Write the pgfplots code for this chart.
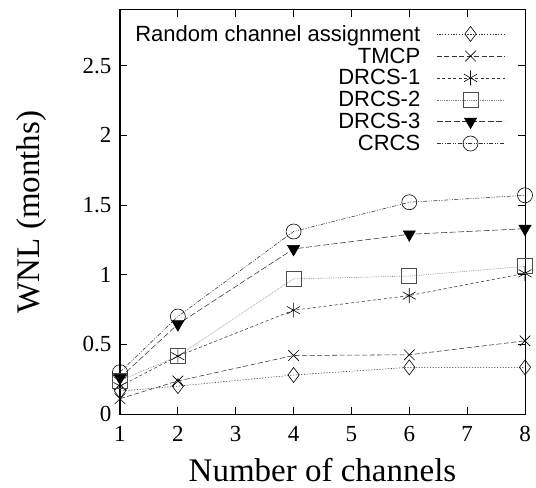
\documentclass[border=0pt]{standalone}
\usepackage{fontspec}
\setmainfont{Liberation Serif}
\newfontfamily\arial{Liberation Sans}
\usepackage{pgfplots}
\pgfplotsset{compat=1.18}
\begin{document}
\begin{tikzpicture}
\begin{axis}[
  scale only axis,
  width=405pt, height=404pt,
  xmin=1, xmax=8, ymin=0, ymax=2.9,
  xtick={1,2,3,4,5,6,7,8},
  xticklabels={1,2,3,4,5,6,7,8},
  ytick={0,0.5,1,1.5,2,2.5},
  yticklabels={0,0.5,1,1.5,2,2.5},
  tick align=inside,
  major tick length=7pt,
  every tick label/.append style={font=\rmfamily\fontsize{23}{25}\selectfont},
  xticklabel style={yshift=-9pt},
  yticklabel style={xshift=-5pt},
  xlabel={Number of channels},
  ylabel={WNL (months)},
  label style={font=\rmfamily\fontsize{33}{36}\selectfont, inner sep=0pt},
  xlabel style={at={(axis description cs:0.5,-0.166)}, anchor=base},
  ylabel style={at={(axis description cs:-0.198,0.5)}, anchor=base},
  axis line style={line width=1pt},
  every tick/.style={black, line width=0.8pt},
  legend plot pos=right,
  legend cell align=right,
  legend style={at={(axis description cs:1,1)}, anchor=north east, xshift=-20pt, yshift=-14pt,
    draw=none, fill=none, inner sep=0pt,
    font=\arial\fontsize{22}{23}\selectfont, row sep=3pt,
    nodes={inner sep=1pt},
    /tikz/every odd column/.append style={column sep=15pt}},
  legend image code/.code={\draw[mark repeat=2,mark phase=2,#1] plot coordinates {(0pt,0pt)(34pt,0pt)(68pt,0pt)};},
]
\coordinate (SW) at (axis description cs:0,0);
\coordinate (NE) at (axis description cs:1,1);
\addplot[black!80, line width=0.55pt, dash pattern=on 1.2pt off 1.6pt, mark=diamond, mark size=7.5pt, mark options={solid, black, fill=none, line width=0.6pt}]
  coordinates {(1,0.165) (2,0.20) (4,0.28) (6,0.335) (8,0.335)};
\addlegendentry{Random channel assignment}
\addplot[black!80, line width=0.55pt, dash pattern=on 5pt off 2.5pt, mark=x, mark size=7.5pt, mark options={solid, black, line width=0.6pt}]
  coordinates {(1,0.11) (2,0.237) (4,0.42) (6,0.425) (8,0.525)};
\addlegendentry{TMCP}
\addplot[black!80, line width=0.55pt, dash pattern=on 3pt off 2.5pt, mark=asterisk, mark size=7.5pt, mark options={solid, black, line width=0.6pt}]
  coordinates {(1,0.20) (2,0.415) (4,0.745) (6,0.85) (8,1.01)};
\addlegendentry{DRCS-1}
\addplot[gray, line width=0.55pt, dash pattern=on 0.8pt off 1pt, mark=square, mark size=7.5pt, mark options={solid, black!70, fill=none, line width=0.8pt}]
  coordinates {(1,0.24) (2,0.415) (4,0.97) (6,0.99) (8,1.06)};
\addlegendentry{DRCS-2}
\addplot[black!80, line width=0.55pt, dash pattern=on 6pt off 2.5pt, mark=triangle*, mark size=7pt, mark options={solid, black, rotate=180, fill=black}]
  coordinates {(1,0.26) (2,0.645) (4,1.185) (6,1.29) (8,1.33)};
\addlegendentry{DRCS-3}
\addplot[black!80, line width=0.55pt, dash pattern=on 4pt off 1.5pt on 1pt off 1.5pt on 1pt off 1.5pt, mark=o, mark size=7.5pt, mark options={solid, black, fill=none, line width=0.6pt}]
  coordinates {(1,0.30) (2,0.70) (4,1.31) (6,1.52) (8,1.57)};
\addlegendentry{CRCS}
\end{axis}
\pgfresetboundingbox
\path[use as bounding box] ([xshift=-120pt,yshift=-73pt]SW) rectangle ([xshift=11pt,yshift=10pt]NE);
\end{tikzpicture}
\end{document}
